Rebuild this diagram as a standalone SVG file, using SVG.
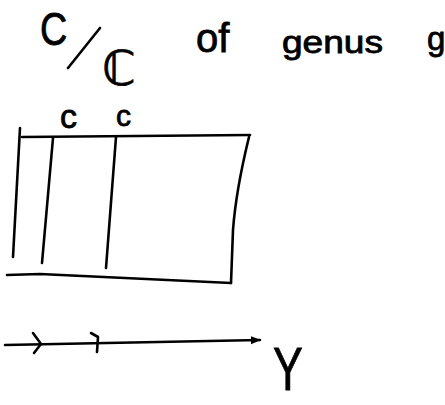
<svg xmlns="http://www.w3.org/2000/svg" width="445" height="405" viewBox="0 0 445 405">
<style>
.ink{fill:none;stroke:#000;stroke-width:2.6;stroke-linecap:round;stroke-linejoin:round}
.t{font-family:"Liberation Sans","DejaVu Sans",sans-serif;fill:#000;stroke:#000;stroke-width:0.8}
</style>
<defs>
<marker id="ah" viewBox="0 0 10 10" refX="9" refY="5" markerWidth="4" markerHeight="4" orient="auto">
<path d="M0,1 L10,5 L0,9 z" fill="#000"/>
</marker>
</defs>
<rect width="445" height="405" fill="#fff"/>
<g id="title">
<text class="t" x="40" y="45" font-size="46" transform="translate(40 0) scale(0.82 1) translate(-40 0)">C</text>
<line class="ink" x1="68" y1="68" x2="100" y2="28"/>
<text class="t" x="102" y="85" font-size="48" font-family="DejaVu Sans, sans-serif">ℂ</text>
<text class="t" x="196" y="52" font-size="40">of</text>
<text class="t" x="282" y="53" font-size="31" textLength="101" lengthAdjust="spacingAndGlyphs">genus</text>
<text class="t" x="427" y="50" font-size="33">g</text>
</g>
<g id="box">
<text class="t" x="60" y="128" font-size="34">c</text>
<text class="t" x="116" y="126" font-size="30">c</text>
<path class="ink" d="M22,137 L250,135"/>
<path class="ink" d="M20,128 L13,257"/>
<path class="ink" d="M53,138 L42,263"/>
<path class="ink" d="M116,137 L106,268"/>
<path class="ink" d="M249,137 Q236,190 233,230 L231,283"/>
<path class="ink" d="M7,275 L40,274 L231,283"/>
</g>
<g id="axis">
<path class="ink" d="M5,345 L260,340" marker-end="url(#ah)"/>
<polyline class="ink" points="33,333 41,344 34,353"/>
<polyline class="ink" points="91,333 98,337 97,352"/>
<text class="t" x="273" y="390" font-size="62" transform="translate(273 0) scale(0.72 1) translate(-273 0)">Y</text>
</g>
</svg>
